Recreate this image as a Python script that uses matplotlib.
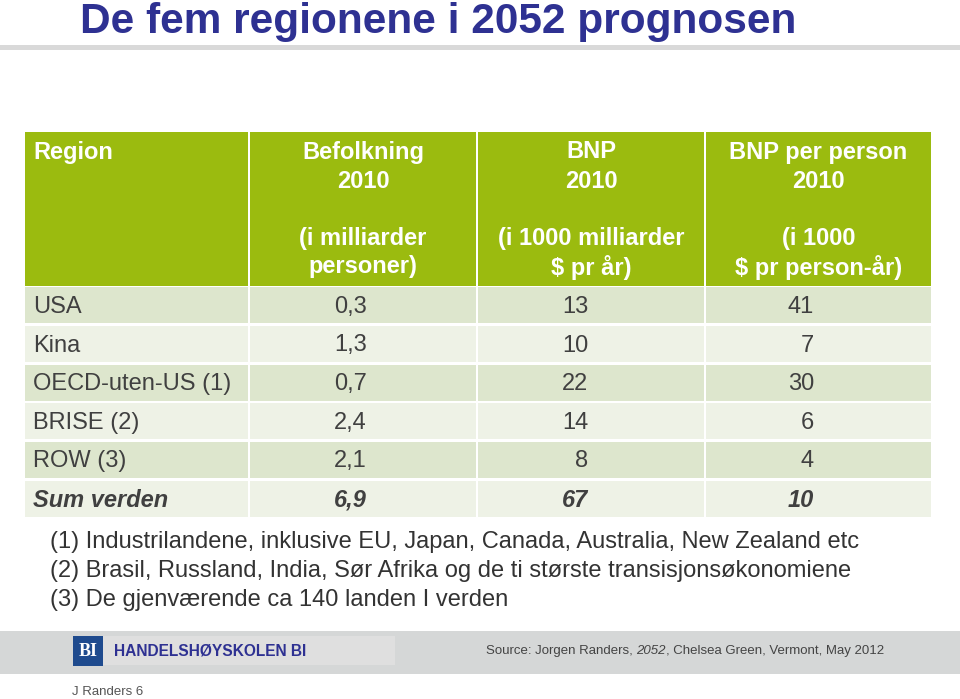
import matplotlib.pyplot as plt
from matplotlib.patches import Rectangle

plt.rcParams['font.family'] = ['Liberation Sans', 'DejaVu Sans']

# table content
regions = ['USA', 'Kina', 'OECD-uten-US (1)', 'BRISE (2)', 'ROW (3)', 'Sum verden']
befolkning = ['0,3', '1,3', '0,7', '2,4', '2,1', '6,9']
bnp = ['13', '10', '22', '14', '8', '67']
bnp_per_person = ['41', '7', '30', '6', '4', '10']

headers = [
    ['Region', '', '', ''],
    ['Befolkning', '2010', '(i milliarder', 'personer)'],
    ['BNP', '2010', '(i 1000 milliarder', '$ pr år)'],
    ['BNP per person', '2010', '(i 1000', '$ pr person-år)'],
]

footnotes = [
    '(1) Industrilandene, inklusive EU, Japan, Canada, Australia, New Zealand etc',
    '(2) Brasil, Russland, India, Sør Afrika og de ti største transisjonsøkonomiene',
    '(3) De gjenværende ca 140 landen I verden',
]

fig = plt.figure(figsize=(9.6, 6.99), dpi=100)
ax = fig.add_axes([0, 0, 1, 1])
ax.set_xlim(0, 960)
ax.set_ylim(699, 0)
ax.axis('off')

# title + grey rule
ax.text(80, 33, 'De fem regionene i 2052 prognosen', fontsize=30.5, fontweight='bold',
        color='#2e3192', va='baseline', ha='left')
ax.add_patch(Rectangle((0, 45), 960, 5, color='#d9d9d9', lw=0))

# table geometry
col_edges = [24, 249, 477, 705, 932]
head_top, head_bot = 132, 286
row_h = (518 - head_bot) / 6
green = '#9bbb0f'
row_cols = ['#dde6cd', '#eef2e6']
gap = 1.2

for i in range(4):
    x0, x1 = col_edges[i], col_edges[i + 1]
    ax.add_patch(Rectangle((x0 + gap, head_top), x1 - x0 - 2 * gap, head_bot - head_top,
                           color=green, lw=0))
    cx = (x0 + x1) / 2
    hd = headers[i]
    if i == 0:
        ax.text(33, 152, hd[0], fontsize=17, fontweight='bold', color='white',
                va='center', ha='left')
    else:
        for t, y in zip(hd, [152, 181, 238, 267]):
            ax.text(cx, y, t, fontsize=17, fontweight='bold', color='white',
                    va='center', ha='center')

num_right = [367, 588, 814]
cols = [befolkning, bnp, bnp_per_person]
for r in range(6):
    y0 = head_bot + r * row_h
    yc = y0 + row_h / 2 + 1.5
    for i in range(4):
        x0, x1 = col_edges[i], col_edges[i + 1]
        ax.add_patch(Rectangle((x0 + gap, y0 + gap), x1 - x0 - 2 * gap, row_h - 2 * gap,
                               color=row_cols[r % 2], lw=0))
    last = r == 5
    kw = dict(fontsize=17, color='#404040', va='center',
              fontweight='bold' if last else 'normal',
              fontstyle='italic' if last else 'normal')
    ax.text(33, yc, regions[r], ha='left', **kw)
    for c in range(3):
        ax.text(num_right[c], yc, cols[c][r], ha='right', **kw)

# footnotes
for k, t in enumerate(footnotes):
    ax.text(50, 542 + 29 * k, t, fontsize=17, color='#333333', va='center', ha='left')

# footer band
ax.add_patch(Rectangle((0, 631), 960, 43, color='#d5d7d7', lw=0))
ax.add_patch(Rectangle((73, 636), 322, 29, color='#dfdfdf', lw=0))
ax.add_patch(Rectangle((73, 636), 30, 30, color='#1f4b8e', lw=0))
ax.text(88, 651, 'BI', fontsize=13, fontweight='bold', color='white', va='center',
        ha='center', family=['Liberation Serif'])
ax.text(114, 651, 'HANDELSHØYSKOLEN BI', fontsize=11.2, fontweight='bold', color='#2e3192',
        va='center', ha='left')
src = ax.text(486, 651, 'Source: Jorgen Randers, ', fontsize=9.5, color='#444444',
              va='center', ha='left')
fig.canvas.draw()
bb = src.get_window_extent()
x2 = ax.transData.inverted().transform((bb.x1, 0))[0]
src2 = ax.text(x2, 651, '2052', fontsize=9.5, color='#444444', va='center', ha='left',
               fontstyle='italic')
bb2 = src2.get_window_extent()
x3 = ax.transData.inverted().transform((bb2.x1, 0))[0]
ax.text(x3, 651, ', Chelsea Green, Vermont, May 2012', fontsize=9.5, color='#444444',
        va='center', ha='left')

ax.text(72, 692, 'J Randers 6', fontsize=9.5, color='#555555', va='center', ha='left')

fig.savefig('out.png', dpi=100)
